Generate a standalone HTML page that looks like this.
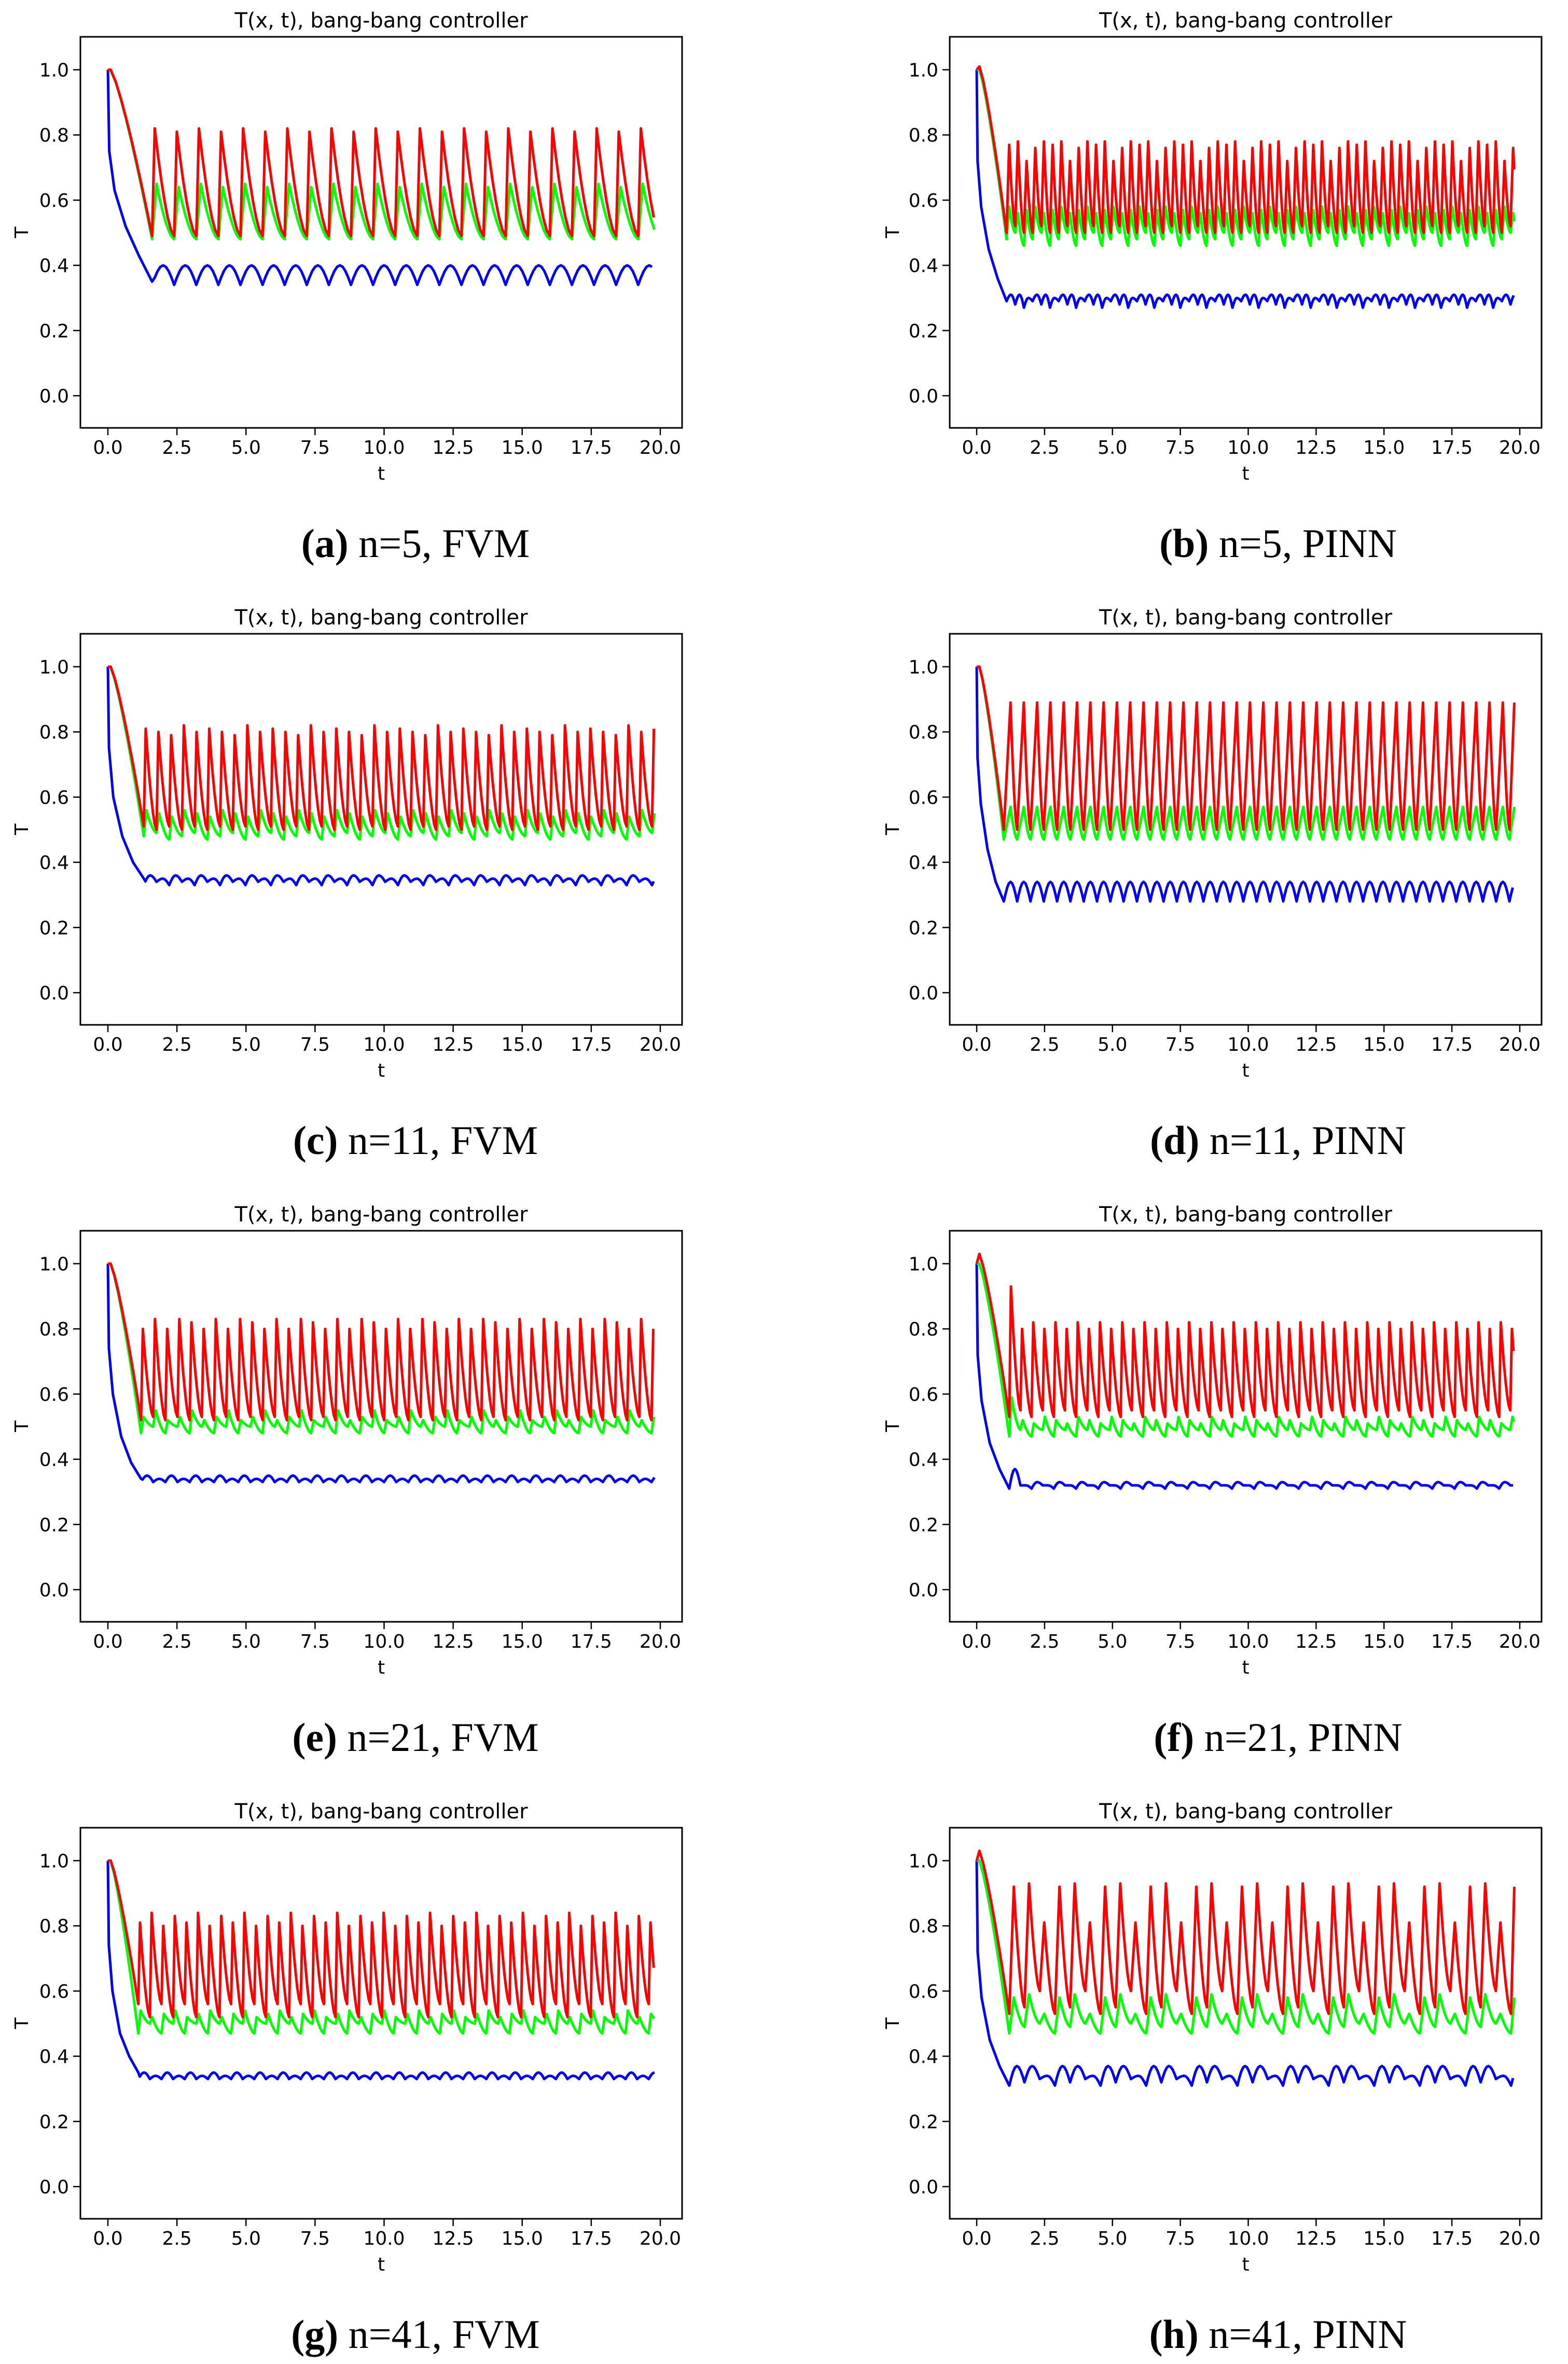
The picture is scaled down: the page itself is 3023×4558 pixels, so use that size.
<!DOCTYPE html>
<html><head><meta charset="utf-8"><style>
html,body{margin:0;padding:0;background:#fff;}
svg{display:block;}
text{font-family:"DejaVu Sans","Liberation Sans",sans-serif;}
.cap{font-family:"Liberation Serif",serif;font-size:78px;}
</style></head>
<body>
<svg id="fig" width="3023" height="4558" viewBox="0 0 3023 4558" xmlns="http://www.w3.org/2000/svg"></svg>
<script>
// ---- data ----
const panelIds = ['a','b','c','d','e','f','g','h'];
const captionNums = ['n=5, FVM','n=5, PINN','n=11, FVM','n=11, PINN','n=21, FVM','n=21, PINN','n=41, FVM','n=41, PINN'];
const xTickVals = [0,2.5,5,7.5,10,12.5,15,17.5,20];
const xTickLabels = ['0.0','2.5','5.0','7.5','10.0','12.5','15.0','17.5','20.0'];
const yTickVals = [0,0.2,0.4,0.6,0.8,1.0];
const yTickLabels = ['0.0','0.2','0.4','0.6','0.8','1.0'];
// settle time (end of initial transient) per panel
const settleT = [1.6,1.1,1.3,1.0,1.2,1.2,1.1,1.2];
// oscillation period per panel
const periodT = [0.8,0.32,0.46,0.49,0.44,0.41,0.42,0.56];
// red rise fraction of a cycle
const redRise = [0.12,0.3,0.15,0.5,0.15,0.15,0.15,0.3];
// initial overshoot of red (max value near t=0.1)
const redStartPeak = [1.0,1.01,1.0,1.0,1.0,1.03,1.0,1.03];
// red peak / trough patterns (cycling)
const redPk = [[0.82,0.81],[0.77,0.78,0.72,0.76,0.78],[0.81,0.80,0.79,0.82,0.80],[0.89],[0.80,0.83,0.80,0.83,0.82],[0.82,0.80,0.82,0.80],[0.81,0.84,0.80,0.83],[0.92,0.93,0.81,0.92,0.93,0.81]];
const redLo = [[0.49],[0.50,0.52,0.50],[0.51,0.50],[0.50],[0.52,0.53],[0.53,0.55],[0.56,0.52],[0.53,0.55,0.60]];
// first-spike overrides (null = use pattern)
const redFirstPk = [null,null,null,null,null,0.93,null,null];
const grnFirstPk = [null,null,null,null,null,0.59,null,null];
const bluFirstPk = [null,null,null,null,null,0.37,null,null];
// green peak / trough patterns
const grnPk = [[0.65,0.64],[0.58,0.56,0.57],[0.56,0.55,0.54],[0.57],[0.53,0.55,0.52],[0.53,0.52,0.51],[0.54,0.52,0.53],[0.58,0.59,0.53]];
const grnLo = [[0.48],[0.48,0.50,0.46],[0.48,0.49,0.47],[0.47],[0.48,0.50],[0.47,0.49],[0.47,0.50],[0.47,0.49,0.50]];
// blue peak / trough patterns
const bluPk = [[0.40],[0.31,0.31,0.30],[0.36,0.35],[0.34],[0.35,0.34],[0.33,0.32],[0.35,0.34],[0.37,0.37,0.34]];
const bluLo = [[0.34],[0.29,0.28,0.27],[0.33,0.34],[0.28],[0.33],[0.31,0.32],[0.33],[0.31,0.32,0.33]];
// blue initial transient values at fractions [0, .03, .15, .4, .7, 1] of settle time
const bluInit = [[1.0,0.75,0.63,0.52,0.43,0.35],[1.0,0.72,0.58,0.45,0.36,0.29],[1.0,0.75,0.6,0.48,0.40,0.35],[1.0,0.72,0.58,0.44,0.34,0.28],[1.0,0.74,0.6,0.47,0.39,0.34],[1.0,0.72,0.58,0.45,0.37,0.31],[1.0,0.74,0.6,0.47,0.40,0.35],[1.0,0.72,0.58,0.45,0.37,0.31]];
const bluInitFrac = [0,0.03,0.15,0.4,0.7,1];
const tEnd = 19.8;

// ---- layout ----
const NS='http://www.w3.org/2000/svg';
const svg=document.getElementById('fig');
const rowTops=[71,1222,2373,3524];
const cols=[{fl:155,fr:1315,x0:208,x20:1273,yl:42,cx:801},{fl:1831,fr:2972,x0:1883,x20:2930,yl:1721,cx:2464}];
function mk(tag,attrs,parent){const e=document.createElementNS(NS,tag);for(const k in attrs)e.setAttribute(k,attrs[k]);(parent||svg).appendChild(e);return e;}

panelIds.forEach((pid,i)=>{
  const c=cols[i%2], top=rowTops[Math.floor(i/2)];
  const sx=t=>c.x0+(c.x20-c.x0)*t/20;
  const sy=v=>top+63.5+(1-v)*628.5;
  const g=mk('g',{});
  
  
  const title=mk('text',{x:(c.fl+c.fr)/2,y:top-18,'text-anchor':'middle','font-size':40},g);
  title.textContent='T(x, t), bang-bang controller';
  
  
  const p=periodT[i], ts=settleT[i];
  const pat=(a,k)=>a[k%a.length];
  function line(pts,color,name){
    const el=mk('polyline',{points:pts.map(q=>sx(q[0]).toFixed(1)+','+sy(q[1]).toFixed(1)).join(' '),fill:'none',stroke:color,'stroke-width':5,'stroke-linejoin':'round'},g);
    
    
  }
  function saw(lo,pk,rise,startPeak,firstPk){
    const pts=[[0,1.0],[0.1,startPeak]];
    const l0=pat(lo,0);
    for(let s=1;s<=8;s++){const f=s/8;pts.push([0.1+(ts-0.1)*f,startPeak+(l0-startPeak)*Math.pow(f,1.25)]);}
    let k=0;
    for(let t=ts;t<tEnd;t+=p,k++){
      const pv=(k===0&&firstPk!==null)?firstPk:pat(pk,k), nl=pat(lo,k+1);
      const tp=t+p*rise;
      pts.push([Math.min(tp,tEnd),pv]);
      for(let s=1;s<=6;s++){const tt=tp+(p-p*rise)*s/6;if(tt>tEnd)break;const f=1-Math.pow(1-s/6,1.6);pts.push([tt,pv+(nl-pv)*f]);}
    }
    return pts;
  }
  // blue
  const bp=bluInitFrac.map((f,j)=>[f*ts,bluInit[i][j]]);
  let k=0;
  for(let t=ts;t<tEnd;t+=p,k++){
    const pv=(k===0&&bluFirstPk[i]!==null)?bluFirstPk[i]:pat(bluPk[i],k), nl=pat(bluLo[i],k+1);
    const l=pat(bluLo[i],k);
    for(let s=1;s<=4;s++){const tt=t+p*0.5*s/4;if(tt>tEnd)break;bp.push([tt,l+(pv-l)*Math.sin(Math.PI/2*s/4)]);}
    for(let s=1;s<=4;s++){const tt=t+p*0.5+p*0.5*s/4;if(tt>tEnd)break;bp.push([tt,pv+(nl-pv)*(1-Math.cos(Math.PI/2*s/4))]);}
  }
  line(bp,'#0000ff','series-blue');
  line(saw(grnLo[i],grnPk[i],Math.max(redRise[i],0.2),1.0,grnFirstPk[i]),'#00ff00','series-green');
  line(saw(redLo[i],redPk[i],redRise[i],redStartPeak[i],redFirstPk[i]),'#ff0000','series-red');
  const fr=mk('rect',{x:c.fl,y:top,width:c.fr-c.fl,height:754,fill:'none',stroke:'#000','stroke-width':3},g);
  
  
  xTickVals.forEach((v,j)=>{
    mk('line',{x1:sx(v),x2:sx(v),y1:top+754,y2:top+768,stroke:'#000','stroke-width':2.5},g);
    const tl=mk('text',{x:sx(v),y:top+804,'text-anchor':'middle','font-size':36},g);
    tl.textContent=xTickLabels[j];
    
    
  });
  yTickVals.forEach((v,j)=>{
    mk('line',{x1:c.fl-14,x2:c.fl,y1:sy(v),y2:sy(v),stroke:'#000','stroke-width':2.5},g);
    const tl=mk('text',{x:c.fl-22,y:sy(v)+13,'text-anchor':'end','font-size':36},g);
    tl.textContent=yTickLabels[j];
    
    
  });
  const xl=mk('text',{x:(c.fl+c.fr)/2,y:top+854,'text-anchor':'middle','font-size':36},g);
  xl.textContent='t';
  
  
  const yy=top+377;
  const yl=mk('text',{x:c.yl,y:yy,'text-anchor':'middle','font-size':36,transform:'rotate(-90 '+c.yl+' '+yy+')'},g);
  yl.setAttribute('dy','12');
  yl.textContent='T';
  
  
  const cap=mk('text',{x:c.cx,y:top+1003,'text-anchor':'middle','class':'cap'},g);
  
  
  const b=mk('tspan',{'font-weight':'bold'},cap);b.textContent='('+pid+')';
  const r=mk('tspan',{},cap);r.textContent=' '+captionNums[i];
});
</script>
</body></html>
